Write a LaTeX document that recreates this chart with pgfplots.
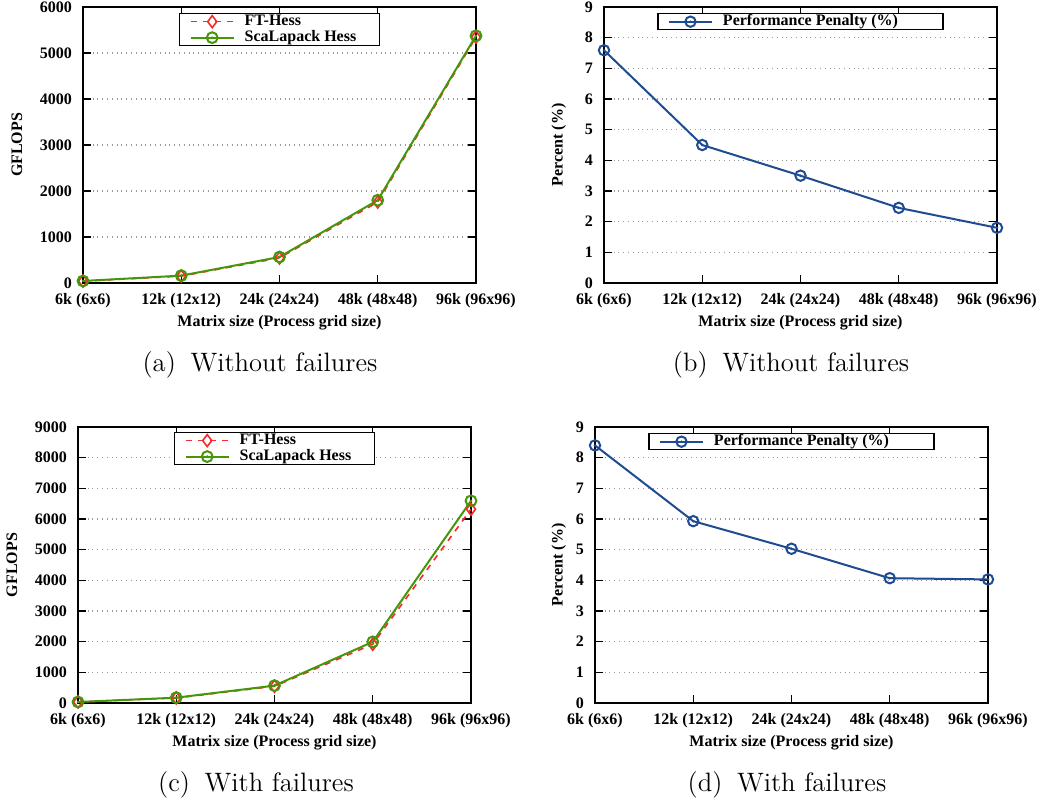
\documentclass[border=0pt]{standalone}
\usepackage{fontspec}
\usepackage{pgfplots}
\pgfplotsset{compat=1.18}
\newfontfamily\tnr{Liberation Serif}
\definecolor{myred}{RGB}{250,40,40}
\definecolor{mygreen}{RGB}{70,150,10}
\definecolor{myblue}{RGB}{30,75,145}
\pgfdeclareplotmark{odot}{%
  \pgfpathcircle{\pgfpointorigin}{\pgfplotmarksize}\pgfusepathqstroke
  \pgfpathcircle{\pgfpointorigin}{0.7pt}\pgfusepathqfill}
\pgfplotsset{
  myax/.style={
    scale only axis, width=196.5pt, height=138pt,
    xmin=0, xmax=4, xtick={0,1,2,3,4},
    xticklabels={6k (6x6),12k (12x12),24k (24x24),48k (48x48),96k (96x96)},
    ymin=0,
    font=\tnr\bfseries\fontsize{8}{9.6}\selectfont,
    /pgf/number format/assume math mode=true,
    /pgf/number format/1000 sep={},
    tick align=inside, major tick length=4pt,
    xtick pos=both, ytick pos=both,
    axis line style={line width=0.8pt},
    tick style={black, line width=0.6pt},
    ymajorgrids, major grid style={gray!80, dotted, line width=0.6pt},
    xlabel={Matrix size (Process grid size)},
    xlabel style={at={(axis description cs:0.5,-0.145)}, anchor=center},
    xticklabel style={yshift=-1.5pt},
    yticklabel style={xshift=-2pt},
    legend image code/.code={\draw[mark repeat=2,mark phase=2,#1] plot coordinates {(0pt,0pt) (10.75pt,0pt) (21.5pt,0pt)};},
    legend cell align=left,
    legend style={draw=black, line width=0.6pt, inner xsep=5pt, inner ysep=0pt,
      nodes={inner sep=0pt, text height=6pt, text depth=2pt},
      /tikz/every odd column/.append style={column sep=5pt}},
  },
  ftline/.style={myred, dashed, line width=0.8pt, mark=diamond, mark size=3pt, mark options={solid}},
  scline/.style={mygreen, line width=1pt, mark=odot, mark size=2.7pt, mark options={solid, fill=mygreen}},
  ppline/.style={myblue, line width=1pt, mark=odot, mark size=2.6pt, mark options={solid, fill=myblue}},
}
\begin{document}
\begin{tikzpicture}[x=1pt,y=1pt]
\useasboundingbox (0,0) rectangle (522,401.5);
% (a)
\begin{axis}[myax, at={(41.5pt,260pt)}, anchor=south west,
  ymax=6000, ytick={0,1000,...,6000}, ylabel={GFLOPS},
  ylabel style={at={(axis description cs:-0.168,0.5)}, anchor=center},
  legend style={at={(axis description cs:0.5,0.978)}, anchor=north}]
\addplot[ftline] coordinates {(0,40) (1,150) (2,545) (3,1760) (4,5345)};
\addlegendentry{FT-Hess}
\addplot[scline] coordinates {(0,44) (1,160) (2,565) (3,1800) (4,5375)};
\addlegendentry{ScaLapack Hess\hspace*{6.5pt}}
\end{axis}
% (b)
\begin{axis}[myax, at={(302pt,260pt)}, anchor=south west,
  ymax=9, ytick={0,1,...,9}, ylabel={Percent (\%)},
  ylabel style={at={(axis description cs:-0.115,0.5)}, anchor=center},
  legend style={at={(axis description cs:0.5,0.978)}, anchor=north}]
\addplot[ppline] coordinates {(0,7.59) (1,4.50) (2,3.50) (3,2.45) (4,1.80)};
\addlegendentry{Performance Penalty (\%)\hspace*{17.5pt}}
\end{axis}
% (c)
\begin{axis}[myax, at={(39pt,50pt)}, anchor=south west,
  ymax=9000, ytick={0,1000,...,9000}, ylabel={GFLOPS},
  ylabel style={at={(axis description cs:-0.168,0.5)}, anchor=center},
  legend style={at={(axis description cs:0.5,0.982)}, anchor=north}]
\addplot[ftline] coordinates {(0,33) (1,165) (2,545) (3,1918) (4,6320)};
\addlegendentry{FT-Hess}
\addplot[scline] coordinates {(0,33) (1,174) (2,567) (3,1994) (4,6592)};
\addlegendentry{ScaLapack Hess\hspace*{6.5pt}}
\end{axis}
% (d)
\begin{axis}[myax, at={(297.5pt,50pt)}, anchor=south west,
  ymax=9, ytick={0,1,...,9}, ylabel={Percent (\%)},
  ylabel style={at={(axis description cs:-0.092,0.5)}, anchor=center},
  legend style={at={(axis description cs:0.5,0.978)}, anchor=north}]
\addplot[ppline] coordinates {(0,8.40) (1,5.93) (2,5.03) (3,4.07) (4,4.03)};
\addlegendentry{Performance Penalty (\%)\hspace*{17.5pt}}
\end{axis}
% captions
\node[anchor=base, font=\fontsize{13.3}{15}\selectfont] at (130,215.5) {(a)\hspace{3pt} Without failures};
\node[anchor=base, font=\fontsize{13.3}{15}\selectfont] at (395.5,215.5) {(b)\hspace{3pt} Without failures};
\node[anchor=base, font=\fontsize{13.3}{15}\selectfont] at (128,5.5) {(c)\hspace{3pt} With failures};
\node[anchor=base, font=\fontsize{13.3}{15}\selectfont] at (393.5,5.5) {(d)\hspace{3pt} With failures};
\end{tikzpicture}
\end{document}
